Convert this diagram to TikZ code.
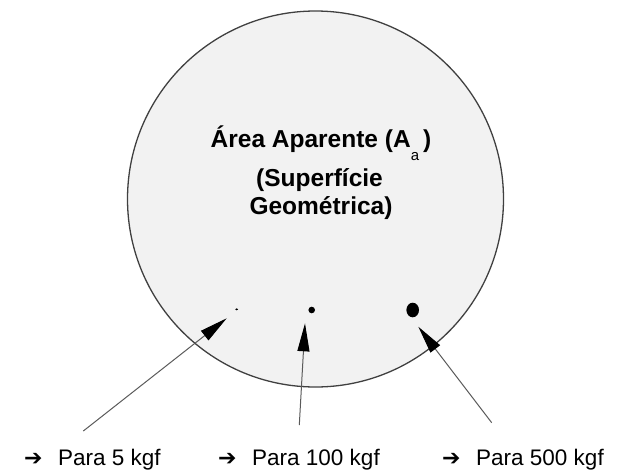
\documentclass[tikz,border=0pt]{standalone}
\usepackage{fontspec}
\setmainfont{Liberation Sans}
\newfontfamily\dejavu{DejaVu Sans}
\usetikzlibrary{arrows.meta}
\definecolor{circfill}{RGB}{242,242,242}
\definecolor{circline}{RGB}{64,64,64}
\definecolor{arrline}{RGB}{90,90,90}
\tikzset{
  titletxt/.style={anchor=base,inner sep=0pt,font=\bfseries\fontsize{24.5}{24.5}\selectfont},
  labtxt/.style={anchor=base west,inner sep=0pt,font=\fontsize{22.5}{22.5}\selectfont},
  arrglyph/.style={anchor=base west,inner sep=0pt,font=\dejavu\fontsize{22}{22}\selectfont},
  pointer/.style={draw=arrline,line width=1pt,-{Triangle[length=28pt,width=12pt,fill=black,color=black]}},
  spot/.style={fill=black,draw=none}
}
\begin{document}
\begin{tikzpicture}[x=1pt,y=-1pt]
\useasboundingbox (0,0) rectangle (628,474);
\filldraw[fill=circfill,draw=circline,line width=1.3pt] (315.5,199) circle[radius=188];
\node[titletxt] (t1) at (321,147) {Área Aparente (A\raisebox{-0.55em}{\fontsize{15}{15}\selectfont\mdseries a}\hspace{4pt})};
\node[titletxt] (t2) at (319.5,186) {(Superfície};
\node[titletxt] (t3) at (321,214) {Geométrica)};
\fill[spot] (236.7,309.3) ellipse[x radius=1.5,y radius=1];
\fill[spot] (311.7,310) circle[radius=3.3];
\fill[spot] (412.7,310) ellipse[x radius=6.3,y radius=7.3];
\coordinate (s1) at (83.3,431);
\coordinate (e1) at (226.7,318.3);
\coordinate (s2) at (299.3,425);
\coordinate (e2) at (305,323.3);
\coordinate (s3) at (491.7,422.7);
\coordinate (e3) at (418.3,326.7);
\draw[pointer] (s1) -- (e1);
\draw[pointer] (s2) -- (e2);
\draw[pointer] (s3) -- (e3);
\node[arrglyph] (g1) at (24,465) {➔};
\node[labtxt] (l1) at (58,465) {Para 5 kgf};
\node[arrglyph] (g2) at (218,465) {➔};
\node[labtxt] (l2) at (252,465) {Para 100 kgf};
\node[arrglyph] (g3) at (442,465) {➔};
\node[labtxt] (l3) at (476,465) {Para 500 kgf};
\end{tikzpicture}
\end{document}
